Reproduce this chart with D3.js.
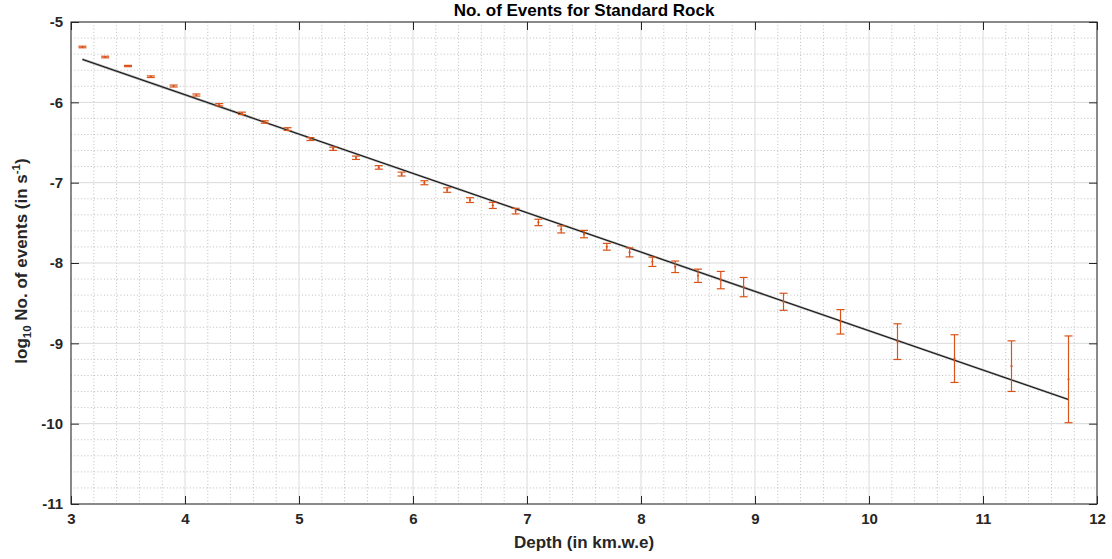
<!DOCTYPE html>
<html><head><meta charset="utf-8">
<script src="https://cdn.jsdelivr.net/npm/d3@7"></script>
<style>
body{margin:0;background:#fff;}
text{font-family:"Liberation Sans",Arial,Helvetica,sans-serif;}
</style></head>
<body><svg id="chart" width="1112" height="559"></svg>
<script>
const depth = [3.1,3.3,3.5,3.7,3.9,4.1,4.3,4.5,4.7,4.9,5.1,5.3,5.5,5.7,5.9,6.1,6.3,6.5,6.7,6.9,7.1,7.3,7.5,7.7,7.9,8.1,8.3,8.5,8.7,8.9,9.25,9.75,10.25,10.75,11.25,11.75];
const logEvents = [-5.311,-5.436,-5.548,-5.681,-5.797,-5.909,-6.03,-6.137,-6.245,-6.333,-6.457,-6.578,-6.69,-6.81,-6.893,-7.001,-7.092,-7.217,-7.283,-7.354,-7.495,-7.582,-7.64,-7.798,-7.868,-7.985,-8.047,-8.159,-8.213,-8.30,-8.483,-8.732,-8.979,-9.19,-9.284,-9.448];
const logErr = [0.010,0.010,0.008,0.010,0.012,0.013,0.014,0.015,0.015,0.017,0.018,0.020,0.021,0.022,0.024,0.025,0.028,0.030,0.038,0.035,0.040,0.044,0.046,0.042,0.056,0.058,0.072,0.083,0.108,0.12,0.106,0.152,0.222,0.297,0.315,0.54];
const fitX = [3.1, 11.75];
const fitY = [-5.465, -9.70];
const xTicks = [3,4,5,6,7,8,9,10,11,12];
const yTicks = [-5,-6,-7,-8,-9,-10,-11];
const titleText = "No. of Events for Standard Rock";
const xLabel = "Depth (in km.w.e)";

const svg = d3.select("#chart");
const L=71, R=1097, T=22, B=504;
const x = d3.scaleLinear().domain([3,12]).range([L,R]);
const y = d3.scaleLinear().domain([-11,-5]).range([B,T]);

// minor grid
const minorX = d3.range(3,12.001,0.2).filter(v=>Math.abs(v-Math.round(v))>1e-6);
const minorY = d3.range(-11,-4.999,0.2).filter(v=>Math.abs(v-Math.round(v))>1e-6);
const g = svg.append("g");
g.selectAll(".mx").data(minorX).enter().append("line")
 .attr("x1",d=>x(d)).attr("x2",d=>x(d)).attr("y1",T).attr("y2",B)
 .attr("stroke","#bdbdbd").attr("stroke-width",1).attr("stroke-dasharray","1,2.3");
g.selectAll(".my").data(minorY).enter().append("line")
 .attr("y1",d=>y(d)).attr("y2",d=>y(d)).attr("x1",L).attr("x2",R)
 .attr("stroke","#bdbdbd").attr("stroke-width",1).attr("stroke-dasharray","1,2.3");
// major grid
g.selectAll(".gx").data(xTicks).enter().append("line")
 .attr("x1",d=>x(d)).attr("x2",d=>x(d)).attr("y1",T).attr("y2",B)
 .attr("stroke","#dadada").attr("stroke-width",1);
g.selectAll(".gy").data(yTicks).enter().append("line")
 .attr("y1",d=>y(d)).attr("y2",d=>y(d)).attr("x1",L).attr("x2",R)
 .attr("stroke","#dadada").attr("stroke-width",1);

// fit line
svg.append("path").datum(d3.zip(fitX,fitY))
 .attr("d",d3.line().x(d=>x(d[0])).y(d=>y(d[1])))
 .attr("stroke","#9a9a9a").attr("stroke-width",2.2).attr("fill","none");
svg.append("path").datum(d3.zip(fitX,fitY))
 .attr("d",d3.line().x(d=>x(d[0])).y(d=>y(d[1])))
 .attr("stroke","#111").attr("stroke-width",1).attr("fill","none");

// error bars
const col="#D95319";
const data = depth.map((d,i)=>({x:d,y:logEvents[i],e:logErr[i]}));
const eb = svg.append("g").attr("stroke",col).attr("stroke-width",1.2).attr("fill","none");
data.forEach(d=>{
  const cx=x(d.x), y1=y(d.y+d.e), y2=y(d.y-d.e);
  eb.append("line").attr("x1",cx).attr("x2",cx).attr("y1",y1).attr("y2",y2);
  eb.append("line").attr("x1",cx-4).attr("x2",cx+4).attr("y1",y1).attr("y2",y1);
  eb.append("line").attr("x1",cx-4).attr("x2",cx+4).attr("y1",y2).attr("y2",y2);
});
svg.append("g").selectAll("circle").data(data).enter().append("circle")
 .attr("cx",d=>x(d.x)).attr("cy",d=>y(d.y)).attr("r",1.1).attr("fill",col);

// axes box with inward ticks
const ax="#262626";
svg.append("rect").attr("x",L).attr("y",T).attr("width",R-L).attr("height",B-T)
 .attr("fill","none").attr("stroke",ax).attr("stroke-width",1);
const tl=8;
const fmt = d=>String(d);
svg.append("g").attr("transform",`translate(0,${B})`)
 .call(d3.axisBottom(x).tickValues(xTicks).tickSizeInner(-tl).tickSizeOuter(0).tickPadding(9.5).tickFormat(fmt))
 .call(s=>s.select(".domain").remove())
 .call(s=>s.selectAll("line").attr("stroke",ax))
 .call(s=>s.selectAll("text").attr("fill","#262626").attr("font-size",15).attr("font-weight","bold").attr("font-family","Liberation Sans, Arial, sans-serif"));
svg.append("g").attr("transform",`translate(0,${T})`)
 .call(d3.axisTop(x).tickValues(xTicks).tickSizeInner(-tl).tickSizeOuter(0).tickFormat(""))
 .call(s=>s.select(".domain").remove())
 .call(s=>s.selectAll("line").attr("stroke",ax));
svg.append("g").attr("transform",`translate(${L},0)`)
 .call(d3.axisLeft(y).tickValues(yTicks).tickSizeInner(-tl).tickSizeOuter(0).tickPadding(8).tickFormat(fmt))
 .call(s=>s.select(".domain").remove())
 .call(s=>s.selectAll("line").attr("stroke",ax))
 .call(s=>s.selectAll("text").attr("fill","#262626").attr("font-size",15).attr("font-weight","bold").attr("font-family","Liberation Sans, Arial, sans-serif"));
svg.append("g").attr("transform",`translate(${R},0)`)
 .call(d3.axisRight(y).tickValues(yTicks).tickSizeInner(-tl).tickSizeOuter(0).tickFormat(""))
 .call(s=>s.select(".domain").remove())
 .call(s=>s.selectAll("line").attr("stroke",ax));

// title
svg.append("text").attr("x",(L+R)/2).attr("y",16).attr("text-anchor","middle")
 .attr("font-size",17).attr("font-weight","bold").attr("fill","#000").text(titleText);
// x label
svg.append("text").attr("x",(L+R)/2).attr("y",547.5).attr("text-anchor","middle")
 .attr("font-size",17).attr("font-weight","bold").attr("fill","#262626").text(xLabel);
// y label
const yl = svg.append("text").attr("transform",`translate(26.5,261) rotate(-90)`)
 .attr("text-anchor","middle").attr("font-size",17).attr("font-weight","bold").attr("fill","#262626");
yl.append("tspan").text("log");
yl.append("tspan").attr("dy",4.5).attr("font-size",11.5).text("10");
yl.append("tspan").attr("dy",-4.5).text(" No. of events (in s");
yl.append("tspan").attr("dy",-7).attr("font-size",11.5).text("-1");
yl.append("tspan").attr("dy",7).text(")");
</script></body></html>
